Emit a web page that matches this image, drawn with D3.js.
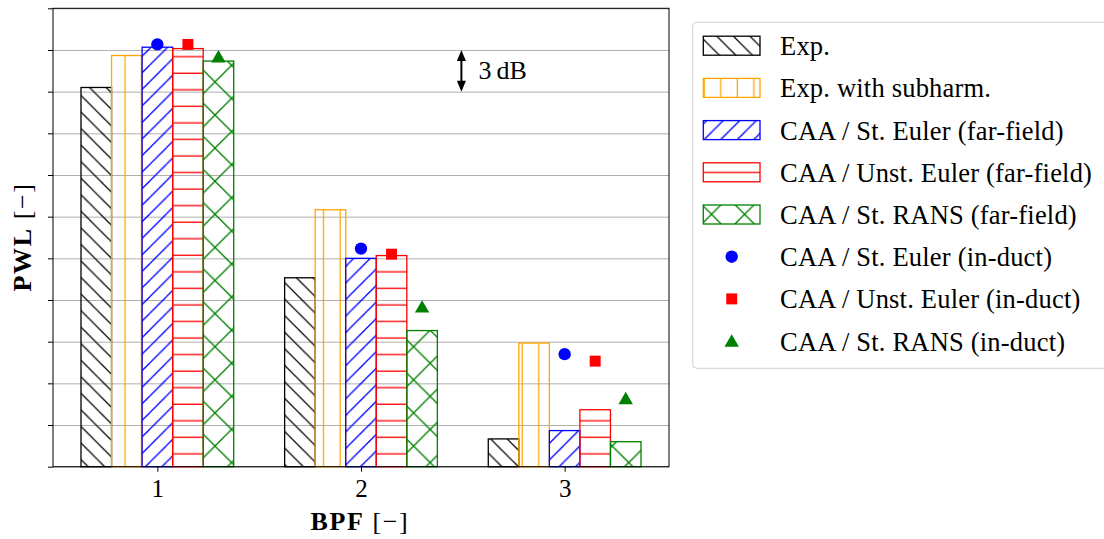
<!DOCTYPE html>
<html>
<head>
<meta charset="utf-8">
<script src="https://cdn.jsdelivr.net/npm/d3@7"></script>
<style>
  body { margin: 0; background: #fff; }
  text { font-family: "Liberation Serif", "Times New Roman", serif; fill: #000; }
</style>
</head>
<body>
<svg width="1104" height="539"></svg>
<script>
// Werte in dB (relativ); ein Gitterabstand = 3 dB
const categories = [1, 2, 3];
const xTickLabels = ["1", "2", "3"];
const yTicks = d3.range(0, 34, 3);

const expVals = [27.3, 13.6, 2.0];
const expSubVals = [29.6, 18.5, 8.9];
const stEulerFar = [30.2, 15.0, 2.6];
const unstEulerFar = [30.1, 15.2, 4.1];
const stRansFar = [29.2, 9.8, 1.8];

const stEulerDuct = [30.4, 15.7, 8.1];
const unstEulerDuct = [30.4, 15.3, 7.6];
const stRansDuct = [29.5, 11.5, 4.9];

const barNames = ["Exp.", "Exp. with subharm.", "CAA / St. Euler (far-field)",
    "CAA / Unst. Euler (far-field)", "CAA / St. RANS (far-field)"];
const pointNames = ["CAA / St. Euler (in-duct)", "CAA / Unst. Euler (in-duct)", "CAA / St. RANS (in-duct)"];

const barSeries = [expVals, expSubVals, stEulerFar, unstEulerFar, stRansFar];
const barColors = ["#000000", "#ffa500", "#0000ff", "#ff0000", "#008000"];
const barHatch = ["h-back", "h-vert", "h-fwd", "h-horz", "h-cross"];

const pointSeries = [stEulerDuct, unstEulerDuct, stRansDuct];
const pointColors = ["#0000ff", "#ff0000", "#008000"];
const pointShapes = [d3.symbolCircle, d3.symbolSquare, d3.symbolTriangle];
const pointOffset = [0, 1, 2];

const barW = 0.15;

let svg = d3.select("svg");
let mLeft = 53, mRight = 669, mTop = 8.3, mBottom = 466.7;

let x = d3.scaleLinear().domain([0.4875, 3.5125]).range([mLeft, mRight]);
let y = d3.scaleLinear().domain([0, 33]).range([mBottom, mTop]);

//Schraffuren (an Bildkoordinaten verankert wie bei matplotlib)
let defs = svg.append("defs");
const P = 16.55;

let hatch = (id, size, color, lines) => {
    let p = defs.append("pattern")
        .attr("id", id)
        .attr("patternUnits", "userSpaceOnUse")
        .attr("width", size)
        .attr("height", size);
    lines.forEach(l => {
        p.append("line")
            .attr("x1", l[0]).attr("y1", l[1])
            .attr("x2", l[2]).attr("y2", l[3])
            .attr("stroke", color)
            .attr("stroke-width", 1.3);
    });
};
let ne = (c, s) => [-1, 0, 1].map(k => [-s, c + k * s + s, 2 * s, c + k * s - 2 * s]);
let se = (d, s) => [-1, 0, 1].map(k => [-s, d + k * s - s, 2 * s, d + k * s + 2 * s]);

hatch("h-back", P, "#000", se(14.45, P));
hatch("h-vert", P, "#ffa500", [[9.15, 0, 9.15, P]]);
hatch("h-fwd", P, "#0000ff", ne(16.25, P));
hatch("h-horz", P, "#ff0000", [[0, 7.05, P, 7.05]]);
hatch("h-cross", 2 * P, "#008000", ne(32.1, 2 * P).concat(se(-0.7, 2 * P)));

//Gitter
svg.append("g")
    .attr("transform", "translate(" + mLeft + ",0)")
    .call(d3.axisLeft(y).tickValues(yTicks).tickFormat("").tickSize(-(mRight - mLeft)))
    .call(g => g.select(".domain").remove())
    .call(g => g.selectAll("line").attr("stroke", "#b0b0b0").attr("stroke-width", 1));

//Balken
for (let i = 0; i < barSeries.length; i++) {
    svg.append("g")
        .selectAll("rect")
        .data(barSeries[i])
        .join("rect")
        .attr("x", (d, j) => x(categories[j] + (i - 2) * barW - barW / 2))
        .attr("width", x(barW) - x(0))
        .attr("y", d => y(d))
        .attr("height", d => y(0) - y(d))
        .attr("fill", "url(#" + barHatch[i] + ")")
        .attr("stroke", barColors[i])
        .attr("stroke-width", 1.3);
}

//Punkte (in-duct)
let symSize = i => i == 2 ? 90 : 120;
for (let i = 0; i < pointSeries.length; i++) {
    svg.append("g")
        .selectAll("path")
        .data(pointSeries[i])
        .join("path")
        .attr("d", d3.symbol().type(pointShapes[i]).size(symSize(i)))
        .attr("transform", (d, j) => "translate(" + x(categories[j] + pointOffset[i] * barW) + "," + (y(d) + (i == 2 ? 1.5 : 0)) + ")")
        .attr("fill", pointColors[i]);
}

//Achsen
svg.append("g")
    .attr("transform", "translate(" + mLeft + ",0)")
    .call(d3.axisLeft(y).tickValues(yTicks).tickFormat("").tickSize(5))
    .call(g => g.select(".domain").remove())
    .call(g => g.selectAll("line").attr("stroke", "#000"));

let xAxis = svg.append("g")
    .attr("transform", "translate(0," + mBottom + ")")
    .call(d3.axisBottom(x).tickValues(categories).tickFormat((d, i) => xTickLabels[i]).tickSize(5))
    .call(g => g.select(".domain").remove());
xAxis.selectAll("line").attr("stroke", "#000");
xAxis.selectAll("text")
    .attr("y", 30)
    .attr("dy", 0)
    .attr("style", "font-family: 'Liberation Serif', serif; font-size: 25px")
    .attr("fill", "#000");

svg.append("rect")
    .attr("x", mLeft).attr("y", mTop)
    .attr("width", mRight - mLeft).attr("height", mBottom - mTop)
    .attr("fill", "none")
    .attr("stroke", "#000")
    .attr("stroke-width", 1);

//Achsentitel
let xl = svg.append("text")
    .attr("x", 360).attr("y", 530)
    .attr("text-anchor", "middle")
    .attr("font-size", 26)
    .attr("letter-spacing", 1.6);
xl.append("tspan").attr("font-weight", "bold").text("BPF");
xl.append("tspan").text(" [\u2212]");

let yl = svg.append("text")
    .attr("transform", "translate(31,237) rotate(-90)")
    .attr("text-anchor", "middle")
    .attr("font-size", 26)
    .attr("letter-spacing", 1.6);
yl.append("tspan").attr("font-weight", "bold").text("PWL");
yl.append("tspan").text(" [\u2212]");

//3 dB Pfeil
let ax = x(2.493);
svg.append("line")
    .attr("x1", ax).attr("x2", ax)
    .attr("y1", y(30) + 9).attr("y2", y(27) - 9)
    .attr("stroke", "#000").attr("stroke-width", 2);
svg.append("path")
    .attr("d", "M" + ax + "," + y(30) + " l-4.5,11 l9,0 z")
    .attr("fill", "#000");
svg.append("path")
    .attr("d", "M" + ax + "," + y(27) + " l-4.5,-11 l9,0 z")
    .attr("fill", "#000");
svg.append("text")
    .attr("x", ax + 17).attr("y", y(28.5) + 8.5)
    .attr("font-size", 26)
    .text("3\u2009dB");

//Legende
let lg = svg.append("g");
lg.append("rect")
    .attr("x", 692.7).attr("y", 22.3)
    .attr("width", 430).attr("height", 346)
    .attr("rx", 4)
    .attr("fill", "#fff")
    .attr("stroke", "#d0d0d0")
    .attr("stroke-width", 1);

let rowY = i => 45.7 + i * 42.2;
for (let i = 0; i < barNames.length; i++) {
    lg.append("rect")
        .attr("x", 703.3).attr("y", rowY(i) - 9.5)
        .attr("width", 56.7).attr("height", 19)
        .attr("fill", "url(#" + barHatch[i] + ")")
        .attr("stroke", barColors[i])
        .attr("stroke-width", 1.3);
}
for (let i = 0; i < pointNames.length; i++) {
    lg.append("path")
        .attr("d", d3.symbol().type(pointShapes[i]).size(symSize(i)))
        .attr("transform", "translate(731.7," + (rowY(i + 5) + (i == 2 ? 1.5 : 0)) + ")")
        .attr("fill", pointColors[i]);
}
barNames.concat(pointNames).forEach((t, i) => {
    lg.append("text")
        .attr("x", 780).attr("y", rowY(i) + 9.5)
        .attr("font-size", 26.5)
        .attr("letter-spacing", 0.2)
        .text(t);
});
</script>
</body>
</html>
